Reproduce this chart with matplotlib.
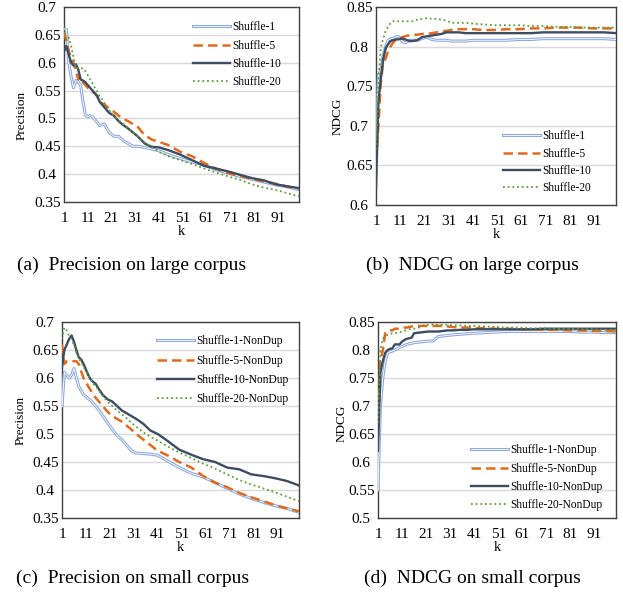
import matplotlib
matplotlib.use("Agg")
import matplotlib.pyplot as plt
import matplotlib.patheffects as pe

plt.rcParams['font.family'] = ['Liberation Serif', 'DejaVu Serif']

K = [1, 2, 3, 4, 5, 6, 7, 8, 9, 10, 11, 12, 13, 14, 15, 16, 18, 20, 22, 24, 26, 28, 30,
     32, 35, 38, 41, 45, 50, 55, 60, 65, 70, 75, 80, 85, 90, 95, 100]
xticks = [1, 11, 21, 31, 41, 51, 61, 71, 81, 91]

# (a) Precision on large corpus
prec_large_s1 = [0.66, 0.66, 0.60, 0.575, 0.555, 0.568, 0.565, 0.56, 0.53, 0.506, 0.503, 0.505, 0.503,
                 0.498, 0.493, 0.487, 0.49, 0.475, 0.468, 0.468, 0.46, 0.455, 0.45, 0.45, 0.448, 0.445,
                 0.442, 0.435, 0.428, 0.422, 0.416, 0.408, 0.402, 0.396, 0.391, 0.386, 0.381, 0.377, 0.372]
prec_large_s5 = [0.655, 0.64, 0.62, 0.61, 0.60, 0.585, 0.57, 0.575, 0.565, 0.56, 0.555, 0.552, 0.548,
                 0.545, 0.54, 0.53, 0.525, 0.518, 0.512, 0.505, 0.50, 0.495, 0.49, 0.485, 0.47, 0.462,
                 0.458, 0.452, 0.44, 0.432, 0.42, 0.41, 0.402, 0.397, 0.392, 0.387, 0.383, 0.378, 0.374]
prec_large_s10 = [0.62, 0.63, 0.615, 0.60, 0.595, 0.597, 0.588, 0.57, 0.568, 0.565, 0.56, 0.555, 0.55,
                  0.545, 0.54, 0.53, 0.52, 0.51, 0.505, 0.495, 0.488, 0.482, 0.475, 0.468, 0.455, 0.449,
                  0.448, 0.443, 0.435, 0.425, 0.415, 0.41, 0.405, 0.399, 0.393, 0.389, 0.382, 0.378, 0.375]
prec_large_s20 = [0.66, 0.64, 0.645, 0.63, 0.61, 0.59, 0.59, 0.59, 0.59, 0.585, 0.578, 0.57, 0.563,
                  0.555, 0.548, 0.54, 0.528, 0.515, 0.505, 0.497, 0.49, 0.483, 0.475, 0.468, 0.457, 0.448,
                  0.44, 0.432, 0.425, 0.418, 0.41, 0.403, 0.396, 0.39, 0.382, 0.376, 0.372, 0.366, 0.36]

# (b) NDCG on large corpus
ndcg_large_s1 = [0.66, 0.765, 0.77, 0.79, 0.80, 0.808, 0.81, 0.81, 0.812, 0.813, 0.81, 0.806, 0.805,
                 0.806, 0.808, 0.808, 0.808, 0.81, 0.812, 0.809, 0.808, 0.808, 0.808, 0.807, 0.807, 0.807,
                 0.808, 0.808, 0.808, 0.808, 0.809, 0.809, 0.81, 0.81, 0.81, 0.81, 0.81, 0.81, 0.809]
ndcg_large_s5 = [0.655, 0.70, 0.755, 0.78, 0.785, 0.795, 0.80, 0.805, 0.808, 0.81, 0.811, 0.812, 0.813,
                 0.814, 0.814, 0.815, 0.815, 0.816, 0.816, 0.817, 0.818, 0.819, 0.82, 0.821, 0.822, 0.822,
                 0.822, 0.821, 0.821, 0.822, 0.822, 0.823, 0.823, 0.824, 0.824, 0.824, 0.823, 0.823, 0.823]
ndcg_large_s10 = [0.62, 0.73, 0.76, 0.785, 0.798, 0.803, 0.807, 0.808, 0.809, 0.809, 0.81, 0.81, 0.809,
                  0.808, 0.807, 0.807, 0.808, 0.812, 0.813, 0.814, 0.815, 0.816, 0.818, 0.818, 0.818, 0.817,
                  0.817, 0.817, 0.817, 0.817, 0.817, 0.817, 0.818, 0.818, 0.818, 0.818, 0.818, 0.818, 0.817]
ndcg_large_s20 = [0.67, 0.76, 0.80, 0.81, 0.82, 0.825, 0.83, 0.832, 0.832, 0.832, 0.832, 0.832, 0.832,
                  0.832, 0.832, 0.832, 0.834, 0.835, 0.836, 0.835, 0.835, 0.834, 0.833, 0.83, 0.83, 0.83,
                  0.829, 0.828, 0.827, 0.827, 0.827, 0.826, 0.826, 0.825, 0.825, 0.824, 0.824, 0.824, 0.824]

# (c) Precision on small corpus
prec_small_s1 = [0.55, 0.61, 0.605, 0.60, 0.605, 0.617, 0.60, 0.585, 0.578, 0.57, 0.567, 0.563, 0.56,
                 0.555, 0.55, 0.545, 0.533, 0.52, 0.508, 0.497, 0.49, 0.48, 0.47, 0.466, 0.465, 0.464,
                 0.462, 0.452, 0.44, 0.43, 0.423, 0.413, 0.403, 0.393, 0.385, 0.378, 0.372, 0.367, 0.36]
prec_small_s5 = [0.66, 0.625, 0.63, 0.63, 0.63, 0.63, 0.63, 0.625, 0.612, 0.60, 0.592, 0.585, 0.578,
                 0.57, 0.565, 0.56, 0.55, 0.54, 0.532, 0.527, 0.522, 0.515, 0.508, 0.50, 0.49, 0.48,
                 0.47, 0.462, 0.45, 0.44, 0.425, 0.413, 0.405, 0.395, 0.387, 0.38, 0.373, 0.367, 0.362]
prec_small_s10 = [0.62, 0.65, 0.66, 0.67, 0.676, 0.665, 0.65, 0.637, 0.633, 0.625, 0.615, 0.605, 0.597,
                  0.593, 0.59, 0.583, 0.57, 0.562, 0.558, 0.55, 0.542, 0.537, 0.532, 0.527, 0.518, 0.506,
                  0.50, 0.488, 0.472, 0.463, 0.455, 0.45, 0.44, 0.437, 0.428, 0.425, 0.421, 0.416, 0.408]
prec_small_s20 = [0.67, 0.69, 0.685, 0.675, 0.668, 0.66, 0.645, 0.635, 0.628, 0.62, 0.612, 0.605, 0.598,
                  0.59, 0.585, 0.58, 0.568, 0.558, 0.55, 0.542, 0.535, 0.528, 0.52, 0.513, 0.503, 0.495,
                  0.488, 0.478, 0.467, 0.457, 0.447, 0.438, 0.428, 0.418, 0.41, 0.403, 0.396, 0.388, 0.38]

# (d) NDCG on small corpus
ndcg_small_s1 = [0.55, 0.70, 0.75, 0.78, 0.795, 0.797, 0.798, 0.80, 0.802, 0.805, 0.806, 0.808, 0.81,
                 0.811, 0.812, 0.813, 0.814, 0.815, 0.816, 0.816, 0.824, 0.825, 0.826, 0.827, 0.828, 0.829,
                 0.83, 0.831, 0.832, 0.833, 0.833, 0.833, 0.833, 0.833, 0.833, 0.832, 0.832, 0.831, 0.831]
ndcg_small_s5 = [0.66, 0.78, 0.80, 0.83, 0.835, 0.835, 0.835, 0.838, 0.838, 0.838, 0.839, 0.84, 0.84,
                 0.841, 0.842, 0.843, 0.843, 0.843, 0.843, 0.843, 0.843, 0.843, 0.842, 0.841, 0.84, 0.84,
                 0.839, 0.839, 0.838, 0.838, 0.837, 0.837, 0.836, 0.836, 0.835, 0.835, 0.834, 0.834, 0.833]
ndcg_small_s10 = [0.62, 0.76, 0.78, 0.795, 0.80, 0.802, 0.803, 0.81, 0.81, 0.81, 0.815, 0.818, 0.82,
                  0.821, 0.822, 0.83, 0.831, 0.832, 0.833, 0.833, 0.833, 0.834, 0.835, 0.835, 0.836, 0.836,
                  0.837, 0.837, 0.837, 0.837, 0.837, 0.837, 0.838, 0.838, 0.838, 0.838, 0.838, 0.838, 0.838]
ndcg_small_s20 = [0.67, 0.80, 0.82, 0.825, 0.827, 0.828, 0.83, 0.83, 0.831, 0.832, 0.833, 0.834, 0.836,
                  0.837, 0.838, 0.838, 0.84, 0.844, 0.845, 0.846, 0.845, 0.845, 0.845, 0.844, 0.844, 0.843,
                  0.843, 0.842, 0.841, 0.84, 0.84, 0.839, 0.839, 0.838, 0.838, 0.837, 0.837, 0.836, 0.836]

labels_large = ['Shuffle-1', 'Shuffle-5', 'Shuffle-10', 'Shuffle-20']
labels_small = ['Shuffle-1-NonDup', 'Shuffle-5-NonDup', 'Shuffle-10-NonDup', 'Shuffle-20-NonDup']
captions = ['(a)  Precision on large corpus', '(b)  NDCG on large corpus',
            '(c)  Precision on small corpus', '(d)  NDCG on small corpus']

C1, C5, C10, C20 = '#8FAADC', '#E06A1E', '#3E4C61', '#5E9E3A'

W, H = 623, 593
fig = plt.figure(figsize=(W / 100, H / 100), dpi=100)


def rect(l, r, t, b):
    return [l / W, 1 - b / H, (r - l) / W, (b - t) / H]


panels = [
    dict(r=rect(64, 299, 7, 202), data=[prec_large_s1, prec_large_s5, prec_large_s10, prec_large_s20],
         labels=labels_large, ylim=(0.35, 0.7), ylabel='Precision', leg=(0.53, 0.95), ls=0.55,
         ylc=(-0.153, 0.446)),
    dict(r=rect(376, 616, 7, 205), data=[ndcg_large_s1, ndcg_large_s5, ndcg_large_s10, ndcg_large_s20],
         labels=labels_large, ylim=(0.6, 0.85), ylabel='NDCG', leg=(0.51, 0.40), ls=0.45,
         ylc=(-0.133, 0.45)),
    dict(r=rect(62, 299, 322, 518), data=[prec_small_s1, prec_small_s5, prec_small_s10, prec_small_s20],
         labels=labels_small, ylim=(0.35, 0.7), ylabel='Precision', leg=(0.38, 0.955), ls=0.62,
         ylc=(-0.148, 0.5)),
    dict(r=rect(378, 616, 322, 518), data=[ndcg_small_s1, ndcg_small_s5, ndcg_small_s10, ndcg_small_s20],
         labels=labels_small, ylim=(0.5, 0.85), ylabel='NDCG', leg=(0.37, 0.40), ls=0.55,
         ylc=(-0.126, 0.485)),
]

for i, p in enumerate(panels):
    ax = fig.add_axes(p['r'])
    s1, s5, s10, s20 = p['data']
    l1, l5, l10, l20 = p['labels']
    ax.plot(K, s1, color='white', lw=0.6, label=l1, zorder=3,
            path_effects=[pe.Stroke(linewidth=2.2, foreground=C1), pe.Normal()])
    ax.plot(K, s5, color=C5, lw=1.8, dashes=(3.8, 2.0), label=l5, zorder=4)
    ax.plot(K, s10, color=C10, lw=1.7, label=l10, zorder=5)
    ax.plot(K, s20, color=C20, lw=1.3, dashes=(1.0, 1.6), label=l20, zorder=6)
    ax.set_xlim(1, 100)
    lo, hi = p['ylim']
    ax.set_ylim(lo, hi)
    ticks = [round(lo + 0.05 * j, 2) for j in range(int(round((hi - lo) / 0.05)) + 1)]
    ax.set_yticks(ticks)
    ax.set_yticklabels([('%g' % t) for t in ticks], ha='center')
    ax.set_xticks(xticks)
    ax.tick_params(axis='y', length=0, labelsize=11, pad=12)
    ax.tick_params(axis='x', length=0, labelsize=11, pad=7)
    ax.grid(axis='y', color='#D9D9D9', lw=1.0)
    ax.set_axisbelow(True)
    for s in ax.spines.values():
        s.set_color('#404040')
        s.set_linewidth(1.0)
    ax.set_xlabel('k', fontsize=10.5, labelpad=0)
    ax.set_ylabel(p['ylabel'], fontsize=9.5)
    ax.yaxis.set_label_coords(*p['ylc'])
    ax.legend(loc='upper left', bbox_to_anchor=p['leg'], frameon=False, fontsize=8.3,
              handlelength=3.2, handletextpad=0.2, labelspacing=p['ls'], borderaxespad=0)

cap_pos = [(132, 265), (472, 265), (133, 578), (472, 578)]
for (x, y), c in zip(cap_pos, captions):
    fig.text(x / W, 1 - y / H, c, ha='center', va='center', fontsize=14,
             family=['Liberation Serif', 'DejaVu Serif'])

fig.savefig('out.png', dpi=100)
